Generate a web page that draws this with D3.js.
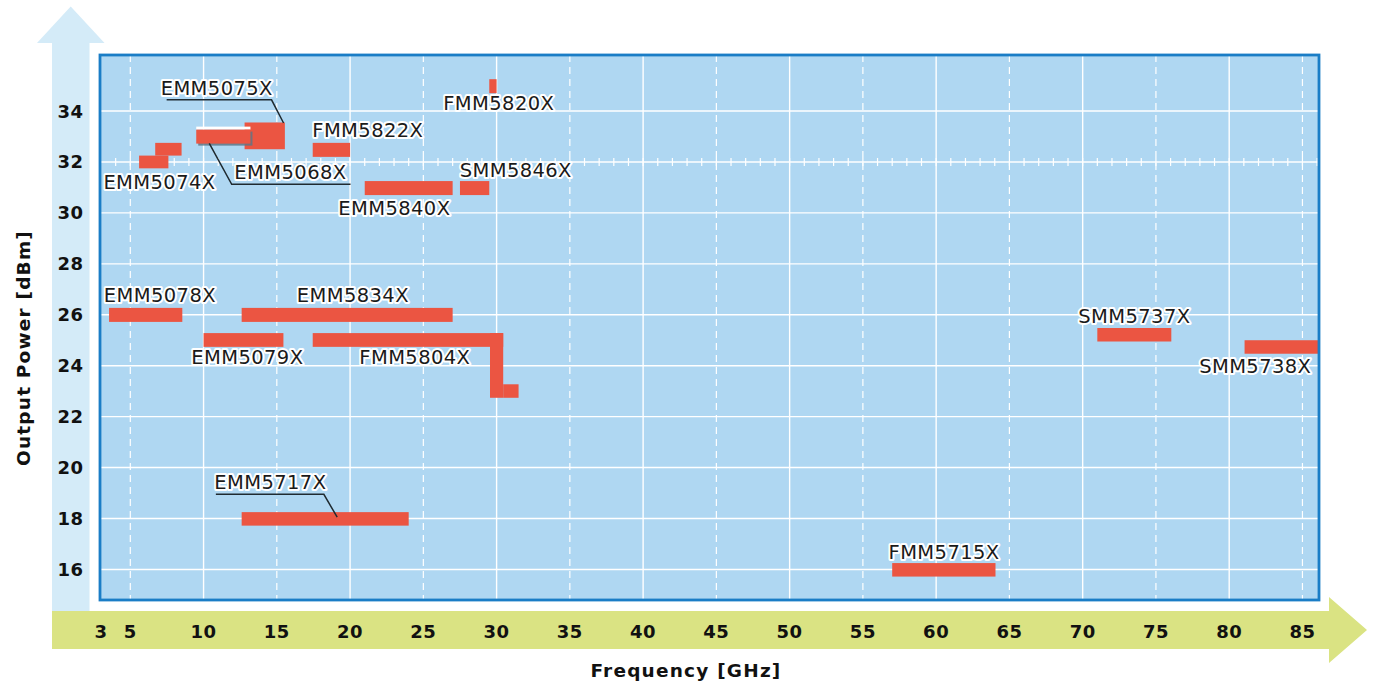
<!DOCTYPE html>
<html><head><meta charset="utf-8">
<script src="https://cdn.jsdelivr.net/npm/d3@7"></script>
<style>
html,body{margin:0;padding:0;background:#fff;}
svg{display:block;}
</style></head>
<body>
<svg id="chart" width="1373" height="683"></svg>
<script>
// ---------- data ----------
const xTicks = [3,5,10,15,20,25,30,35,40,45,50,55,60,65,70,75,80,85];
const yTicks = [16,18,20,22,24,26,28,30,32,34];
const productNames = ["EMM5074X","EMM5075X","EMM5068X","FMM5822X","FMM5820X","EMM5840X","SMM5846X",
  "EMM5078X","EMM5834X","EMM5079X","FMM5804X","EMM5717X","SMM5737X","SMM5738X","FMM5715X"];
// bars: [product, freqStart GHz, freqEnd GHz, powerLow dBm, powerHigh dBm]
const bars = [
  ["EMM5074X", 5.6, 7.6, 31.75, 32.25],
  ["EMM5074X", 6.7, 8.5, 32.25, 32.75],
  ["EMM5075X", 12.8, 15.55, 32.5, 33.55],
  ["FMM5822X", 17.45, 20.0, 32.2, 32.75],
  ["FMM5820X", 29.5, 30.0, 34.7, 35.25],
  ["EMM5840X", 21.0, 27.0, 30.7, 31.25],
  ["SMM5846X", 27.5, 29.5, 30.7, 31.25],
  ["EMM5078X", 3.55, 8.55, 25.72, 26.27],
  ["EMM5834X", 12.6, 27.0, 25.72, 26.27],
  ["EMM5079X", 10.0, 15.45, 24.74, 25.28],
  ["FMM5804X", 17.45, 30.45, 24.74, 25.28],
  ["FMM5804X", 29.55, 30.45, 22.74, 25.28],
  ["FMM5804X", 30.45, 31.5, 22.74, 23.27],
  ["EMM5717X", 12.6, 24.0, 17.72, 18.25],
  ["SMM5737X", 71.0, 76.05, 24.95, 25.48],
  ["SMM5738X", 81.05, 86.2, 24.47, 25.0],
  ["FMM5715X", 57.0, 64.05, 15.72, 16.25]
];
// highlighted (overlaid) bar
const overlayBars = [["EMM5068X", 9.5, 13.2, 32.72, 33.27]];
// label anchors: [text, centre freq, centre power]
const labels = [
  ["EMM5075X", 10.9, 34.9],
  ["EMM5068X", 15.93, 31.6],
  ["EMM5074X", 6.99, 31.21],
  ["FMM5822X", 21.21, 33.22],
  ["FMM5820X", 30.15, 34.28],
  ["EMM5840X", 23.02, 30.19],
  ["SMM5846X", 31.31, 31.65],
  ["EMM5078X", 7.02, 26.74],
  ["EMM5834X", 20.19, 26.74],
  ["EMM5079X", 12.99, 24.34],
  ["FMM5804X", 24.42, 24.34],
  ["EMM5717X", 14.56, 19.43],
  ["SMM5737X", 73.53, 25.95],
  ["SMM5738X", 81.78, 23.95],
  ["FMM5715X", 60.54, 16.68]
];
// leader lines: [product, [[freq, power], ...]]
const leaders = [
  ["EMM5075X", [[7.48,34.44],[14.64,34.44],[15.46,33.53]]],
  ["EMM5068X", [[10.39,32.73],[11.92,31.12],[20.03,31.12]]],
  ["EMM5717X", [[10.84,18.95],[18.21,18.95],[19.12,18.05]]]
];
const minorTicks32 = d3.range(4, 87, 1);
const xTitle = "Frequency [GHz]";
const yTitle = "Output Power [dBm]";

// ---------- layout ----------
const svg = d3.select("#chart");
const plot = {left:100, right:1319, top:55, bottom:600};
const x = d3.scaleLinear().domain([3, 86.13]).range([101, 1319]);
const y = d3.scaleLinear().domain([14.8, 36.2]).range([600, 55]);

const RED = "#eb5542";
const BG = "#afd7f2";
const FRAME = "#1a7dc6";
const YARROW = "#d4ebf8";
const XARROW = "#dae383";
const BOLD_FONT = "'DejaVu Sans', sans-serif";

// y arrow
svg.append("path")
  .attr("d", "M52,611 L52,43 L37,43 L70.7,6.5 L104.5,43 L89.5,43 L89.5,611 Z")
  .attr("fill", YARROW);
// x arrow
svg.append("path")
  .attr("d", "M52,611 L1329,611 L1329,597 L1367,630 L1329,663 L1329,649 L52,649 Z")
  .attr("fill", XARROW);

// plot background
svg.append("rect")
  .attr("x", plot.left).attr("y", plot.top)
  .attr("width", plot.right - plot.left).attr("height", plot.bottom - plot.top)
  .attr("fill", BG);

const g = svg.append("g");
svg.append("clipPath").attr("id","pclip").append("rect")
  .attr("x", plot.left).attr("y", plot.top)
  .attr("width", plot.right - plot.left).attr("height", plot.bottom - plot.top);
g.attr("clip-path","url(#pclip)");

// vertical grid
g.selectAll("line.vg").data(xTicks.filter(d => d % 5 === 0))
  .join("line").attr("class","vg")
  .attr("x1", d => x(d)).attr("x2", d => x(d))
  .attr("y1", plot.top).attr("y2", plot.bottom)
  .attr("stroke", "#fff")
  .attr("stroke-width", d => d % 10 === 0 ? 1.4 : 1.2)
  .attr("stroke-dasharray", d => d % 10 === 0 ? null : "7,5");
// horizontal grid
g.selectAll("line.hg").data(yTicks)
  .join("line").attr("class","hg")
  .attr("x1", plot.left).attr("x2", plot.right)
  .attr("y1", d => y(d)).attr("y2", d => y(d))
  .attr("stroke", "#fff").attr("stroke-width", 1.4);
// minor ticks on 32 dBm line
g.selectAll("line.mt").data(minorTicks32)
  .join("line").attr("class","mt")
  .attr("x1", d => x(d)).attr("x2", d => x(d))
  .attr("y1", y(32) - 4).attr("y2", y(32) + 4)
  .attr("stroke", "#fff").attr("stroke-width", 1.2);

// bars
g.selectAll("rect.bar").data(bars)
  .join("rect").attr("class","bar")
  .attr("x", d => x(d[1])).attr("width", d => x(d[2]) - x(d[1]))
  .attr("y", d => y(d[4])).attr("height", d => y(d[3]) - y(d[4]))
  .attr("fill", RED);

// overlay bar with highlight and shadow
overlayBars.forEach(d => {
  const bx = x(d[1]), bw = x(d[2]) - x(d[1]), by = y(d[4]), bh = y(d[3]) - y(d[4]);
  g.append("rect").attr("x", bx + 2).attr("y", by + 2).attr("width", bw).attr("height", bh)
    .attr("fill", "#5f7585").attr("opacity", 0.85);
  g.append("rect").attr("x", bx).attr("y", by - 3).attr("width", bw).attr("height", 3)
    .attr("fill", "#fff");
  g.append("rect").attr("x", bx).attr("y", by).attr("width", bw).attr("height", bh)
    .attr("fill", RED);
});

// leader lines
const line = d3.line().x(p => x(p[0])).y(p => y(p[1]));
g.selectAll("path.leader").data(leaders)
  .join("path").attr("class","leader")
  .attr("d", d => line(d[1]))
  .attr("fill","none").attr("stroke","#1f2a30").attr("stroke-width",1.5);

// labels
svg.append("g").selectAll("text").data(labels)
  .join("text")
  .attr("x", d => x(d[1])).attr("y", d => y(d[2]))
  .attr("text-anchor","middle").attr("dominant-baseline","central")
  .attr("font-family","'DejaVu Sans', sans-serif")
  .attr("font-size", 19.5).attr("letter-spacing", 0.4)
  .attr("fill","#1a1a1a")
  .attr("stroke","#fff").attr("stroke-width",4).attr("stroke-linejoin","round")
  .attr("paint-order","stroke")
  .text(d => d[0]);

// frame
svg.append("rect")
  .attr("x", plot.left).attr("y", plot.top)
  .attr("width", plot.right - plot.left).attr("height", plot.bottom - plot.top)
  .attr("fill","none").attr("stroke", FRAME).attr("stroke-width", 2.8);

// y tick labels
svg.append("g").selectAll("text").data(yTicks)
  .join("text")
  .attr("x", 70.5).attr("y", d => y(d))
  .attr("text-anchor","middle").attr("dominant-baseline","central")
  .attr("font-family", BOLD_FONT).attr("font-weight",700)
  .attr("font-size", 18).attr("letter-spacing", 0.5).attr("fill","#111")
  .text(d => d);

// x tick labels
svg.append("g").selectAll("text").data(xTicks)
  .join("text")
  .attr("x", d => x(d)).attr("y", 631)
  .attr("text-anchor","middle").attr("dominant-baseline","central")
  .attr("font-family", BOLD_FONT).attr("font-weight",700)
  .attr("font-size", 18).attr("letter-spacing", 0.5).attr("fill","#111")
  .text(d => d);

// axis titles
svg.append("text")
  .attr("x", 686).attr("y", 670)
  .attr("text-anchor","middle").attr("dominant-baseline","central")
  .attr("font-family", BOLD_FONT).attr("font-weight",700)
  .attr("font-size", 18.5).attr("letter-spacing", 1.2).attr("fill","#111")
  .text(xTitle);
svg.append("text")
  .attr("transform","translate(23,348) rotate(-90)")
  .attr("text-anchor","middle").attr("dominant-baseline","central")
  .attr("font-family", BOLD_FONT).attr("font-weight",700)
  .attr("font-size", 18.5).attr("letter-spacing", 1.2).attr("fill","#111")
  .text(yTitle);
</script>
</body></html>
